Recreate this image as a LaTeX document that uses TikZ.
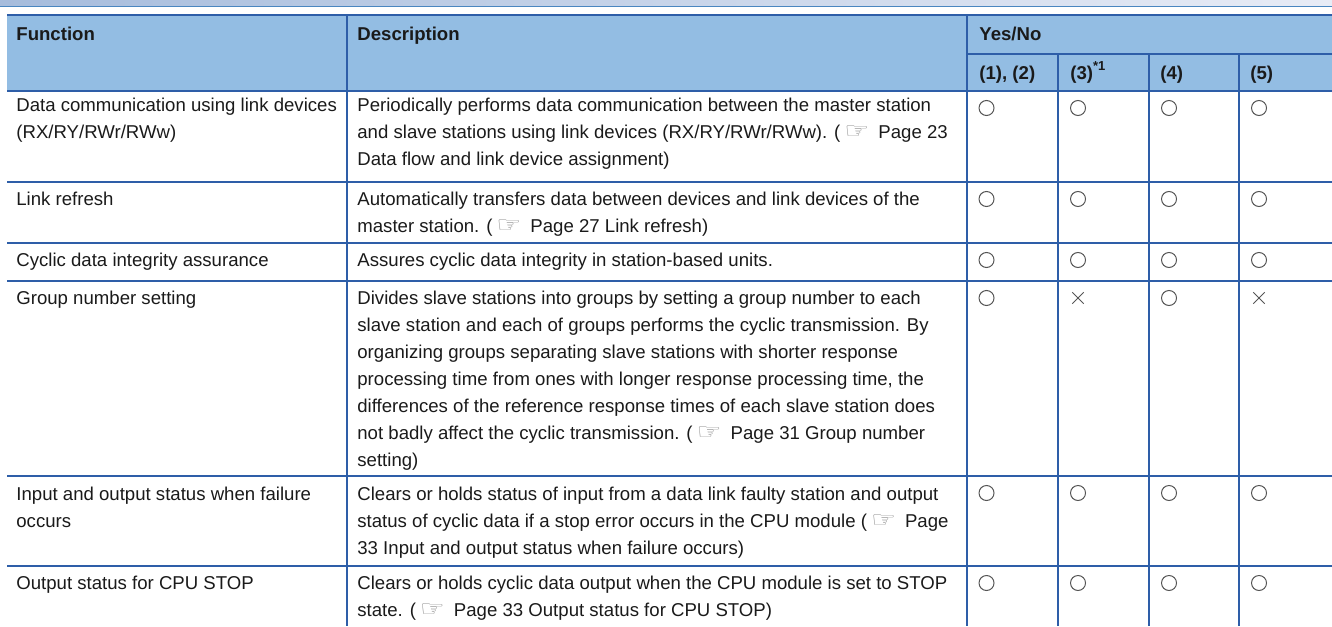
\documentclass[tikz,border=0pt]{standalone}
\usepackage{fontspec}
\setmainfont{Liberation Sans}
\newfontfamily\dejavu{DejaVu Sans}
\usetikzlibrary{shapes.misc}
\definecolor{gridblue}{HTML}{2E5EA8}
\definecolor{headfill}{HTML}{93BDE3}
\definecolor{barleft}{HTML}{A6BCDC}
\definecolor{barright}{HTML}{E8ECF6}
\definecolor{barline}{HTML}{4A86C0}
\definecolor{txt}{HTML}{1A1A1A}
\definecolor{markgray}{HTML}{555555}
\definecolor{handgray}{HTML}{959595}
\newcommand\fl{\rule{0pt}{11pt}}
\newcommand\pghand{\hspace{2pt}{\dejavu\color{handgray}\scalebox{1.5}[1.2]{☞}}\hspace{4.5pt}}
\begin{document}
\begin{tikzpicture}[x=0.5pt,y=-0.5pt,
  cell/.style={anchor=north west, inner sep=0pt, align=left, text=txt,
    font=\fontsize{9.3}{13.5}\selectfont},
  headcell/.style={cell, font=\fontsize{9.3}{13.5}\selectfont\bfseries},
  rule/.style={draw=gridblue, line width=1pt},
  yes/.style={circle, draw=markgray, line width=0.5pt, minimum size=7.5pt, inner sep=0pt},
  no/.style={cross out, draw=markgray, line width=0.5pt, minimum size=5.2pt, inner sep=0pt}]
\useasboundingbox (0,0) rectangle (1332,626);
% top bar
\shade[left color=barleft, right color=barright] (0,0) rectangle (1332,6);
\draw[barline, line width=0.5pt] (0,6.5) -- (1332,6.5);
% header fill
\fill[headfill] (7,15) rectangle (1332,91);
% grid
\draw[rule] (7,15) -- (1332,15);
\draw[rule] (967,54) -- (1332,54);
\foreach \yy in {91,182,243.3,281.3,476,566} \draw[rule] (7,\yy) -- (1332,\yy);
\draw[rule] (347,15) -- (347,626);
\draw[rule] (967,15) -- (967,626);
\foreach \xx in {1058,1149,1239} \draw[rule] (\xx,54) -- (\xx,626);
% header text
\node[headcell] (hf) at (16,18) {\fl Function};
\node[headcell] (hd) at (357,18) {\fl Description};
\node[headcell] (hy) at (979,18) {\fl Yes/No};
\node[headcell] (h1) at (979,57) {\fl (1), (2)};
\node[headcell] (h3) at (1070,57) {\fl (3)\raisebox{4.5pt}{\fontsize{6.5}{7}\selectfont\bfseries *1}};
\node[headcell] (h4) at (1160,57) {\fl (4)};
\node[headcell] (h5) at (1250,57) {\fl (5)};
% function column
\node[cell] (f1) at (16,89) {\fl Data communication using link devices\\(RX/RY/RWr/RWw)};
\node[cell] (f2) at (16,183) {\fl Link refresh};
\node[cell] (f3) at (16,244.5) {\fl Cyclic data integrity assurance};
\node[cell] (f4) at (16,282.5) {\fl Group number setting};
\node[cell] (f5) at (16,478) {\fl Input and output status when failure\\occurs};
\node[cell] (f6) at (16,567.5) {\fl Output status for CPU STOP};
% description column
\node[cell] (d1) at (357,89) {\fl Periodically performs data communication between the master station\\and slave stations using link devices (RX/RY/RWr/RWw). (\pghand Page 23\\Data flow and link device assignment)};
\node[cell] (d2) at (357,183) {\fl Automatically transfers data between devices and link devices of the\\master station. (\pghand Page 27 Link refresh)};
\node[cell] (d3) at (357,244.5) {\fl Assures cyclic data integrity in station-based units.};
\node[cell] (d4) at (357,282.5) {\fl Divides slave stations into groups by setting a group number to each\\slave station and each of groups performs the cyclic transmission. By\\organizing groups separating slave stations with shorter response\\processing time from ones with longer response processing time, the\\differences of the reference response times of each slave station does\\not badly affect the cyclic transmission. (\pghand Page 31 Group number\\setting)};
\node[cell] (d5) at (357,478) {\fl Clears or holds status of input from a data link faulty station and output\\status of cyclic data if a stop error occurs in the CPU module (\pghand Page\\33 Input and output status when failure occurs)};
\node[cell] (d6) at (357,567.5) {\fl Clears or holds cyclic data output when the CPU module is set to STOP\\state. (\pghand Page 33 Output status for CPU STOP)};
% marks
\foreach \r/\yy in {1/108,2/199,3/260,4/298,5/493,6/583}{
  \node[yes] (m\r a) at (986.5,\yy) {};
  \node[yes] (m\r c) at (1169,\yy) {};
}
\foreach \r/\yy in {1/108,2/199,3/260,5/493,6/583}{
  \node[yes] (m\r b) at (1078,\yy) {};
  \node[yes] (m\r d) at (1259,\yy) {};
}
\node[no] (m4b) at (1078,298) {};
\node[no] (m4d) at (1259,298) {};
\end{tikzpicture}
\end{document}
